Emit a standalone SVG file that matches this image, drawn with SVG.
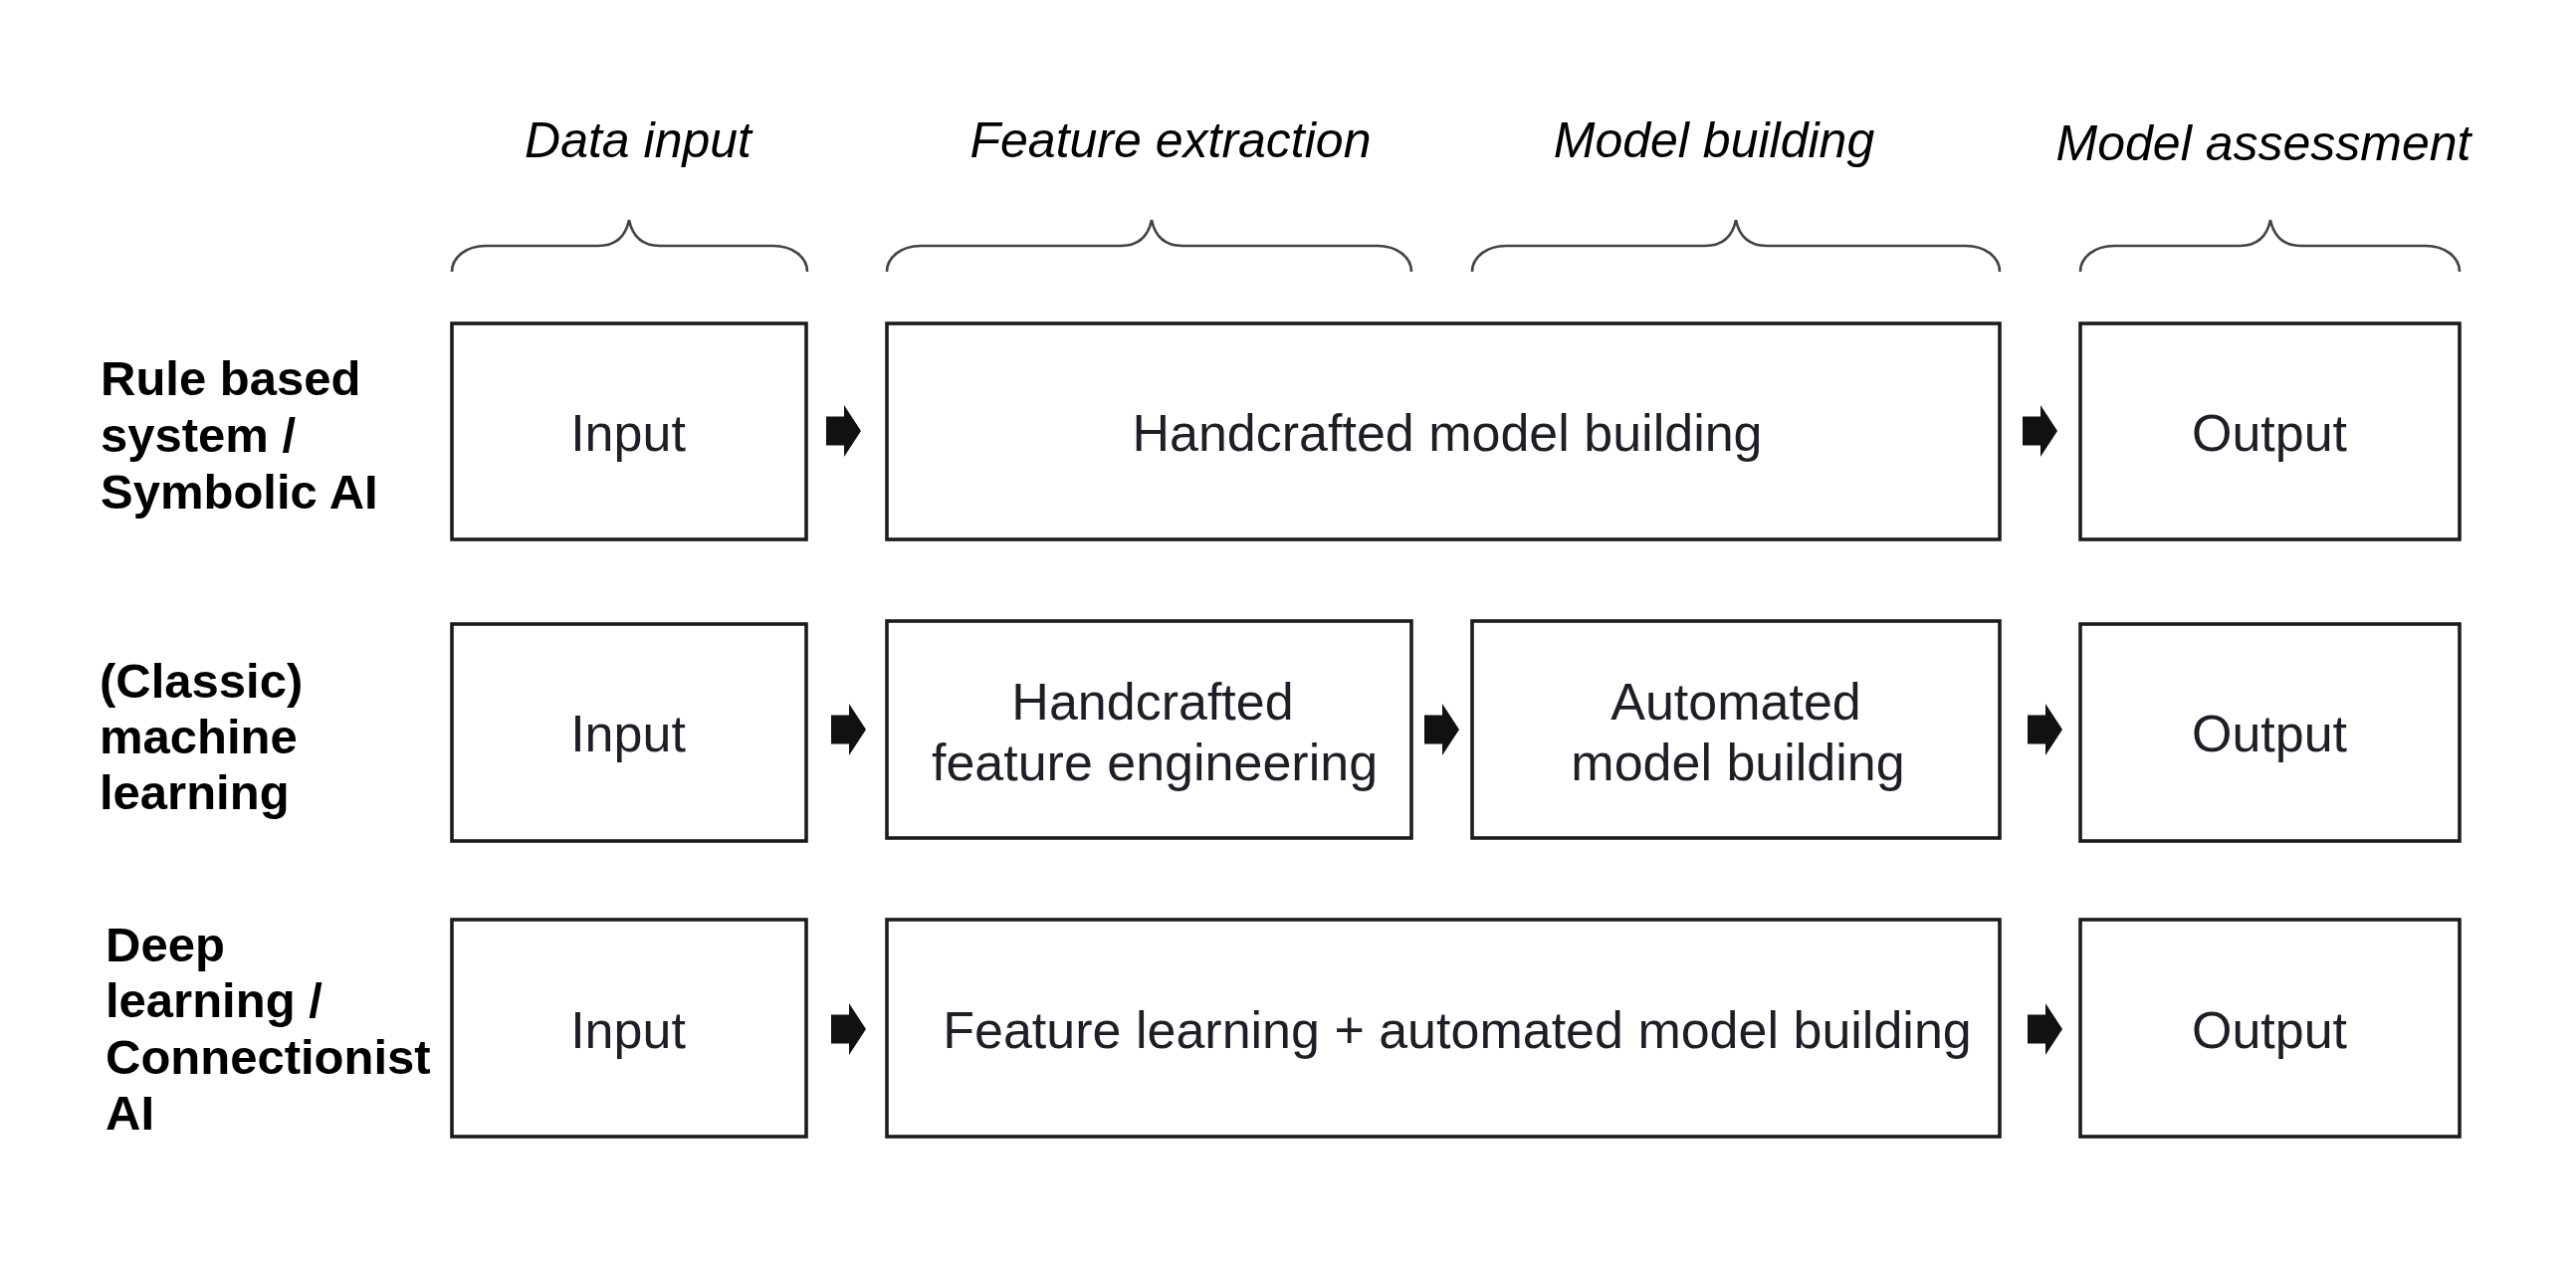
<svg xmlns="http://www.w3.org/2000/svg" width="2588" height="1268" viewBox="0 0 2588 1268">
<style>
  .box { fill: #ffffff; stroke: #1c1c1c; stroke-width: 3.6; }
  .brace { fill: none; stroke: #444444; stroke-width: 2.6; }
  .hdr { font-family: "Liberation Sans", Arial, sans-serif; font-style: italic; font-size: 50px; fill: #000000; text-anchor: middle; }
  .row { font-family: "Liberation Sans", Arial, sans-serif; font-weight: bold; font-size: 49px; fill: #000000; }
  .lbl { font-family: "Liberation Sans", Arial, sans-serif; font-size: 52px; fill: #1e1e26; text-anchor: middle; }
  .arr { fill: #111111; }
</style>
<defs>
  <path id="arrow" d="M0,-14.5 L18,-14.5 L18,-26 L35,0 L18,26 L18,14.5 L0,14.5 Z"/>
</defs>
<rect x="0" y="0" width="2588" height="1268" fill="#ffffff"/>

<g id="headers">
  <text class="hdr" x="641" y="158">Data input</text>
  <text class="hdr" x="1176" y="158">Feature extraction</text>
  <text class="hdr" x="1722" y="158">Model building</text>
  <text class="hdr" x="2274" y="161">Model assessment</text>
  <path class="brace" d="M454,273 C454,258 469,247 488,247 L601,247 C617,247 628,240 632,221 C636,240 647,247 663,247 L777,247 C796,247 811,258 811,273"/>
  <path class="brace" d="M891,273 C891,258 906,247 925,247 L1126,247 C1142,247 1153,240 1157,221 C1161,240 1172,247 1188,247 L1384,247 C1403,247 1418,258 1418,273"/>
  <path class="brace" d="M1479,273 C1479,258 1494,247 1513,247 L1713,247 C1729,247 1740,240 1744,221 C1748,240 1759,247 1775,247 L1975,247 C1994,247 2009,258 2009,273"/>
  <path class="brace" d="M2090,273 C2090,258 2105,247 2124,247 L2250,247 C2266,247 2277,240 2281,221 C2285,240 2296,247 2312,247 L2437,247 C2456,247 2471,258 2471,273"/>
</g>

<g id="row-labels">
  <text class="row" x="101" y="397">Rule based</text>
  <text class="row" x="101" y="454">system /</text>
  <text class="row" x="101" y="511">Symbolic AI</text>
  <text class="row" x="100" y="701">(Classic)</text>
  <text class="row" x="100" y="757">machine</text>
  <text class="row" x="100" y="813">learning</text>
  <text class="row" x="106" y="966">Deep</text>
  <text class="row" x="106" y="1022">learning /</text>
  <text class="row" x="106" y="1079">Connectionist</text>
  <text class="row" x="106" y="1135">AI</text>
</g>

<g id="r1-input"><rect class="box" x="454" y="325" width="356" height="217"/><text class="lbl" x="631" y="453">Input</text></g>
<g id="r1-handcrafted"><rect class="box" x="891" y="325" width="1118" height="217"/><text class="lbl" x="1454" y="453">Handcrafted model building</text></g>
<g id="r1-output"><rect class="box" x="2090" y="325" width="381" height="217"/><text class="lbl" x="2280" y="453">Output</text></g>

<g id="r2-input"><rect class="box" x="454" y="627" width="356" height="218"/><text class="lbl" x="631" y="755">Input</text></g>
<g id="r2-feature"><rect class="box" x="891" y="624" width="527" height="218"/><text class="lbl" x="1158" y="723">Handcrafted</text><text class="lbl" x="1160" y="784">feature engineering</text></g>
<g id="r2-model"><rect class="box" x="1479" y="624" width="530" height="218"/><text class="lbl" x="1744" y="723">Automated</text><text class="lbl" x="1746" y="784">model building</text></g>
<g id="r2-output"><rect class="box" x="2090" y="627" width="381" height="218"/><text class="lbl" x="2280" y="755">Output</text></g>

<g id="r3-input"><rect class="box" x="454" y="924" width="356" height="218"/><text class="lbl" x="631" y="1053">Input</text></g>
<g id="r3-learning"><rect class="box" x="891" y="924" width="1118" height="218"/><text class="lbl" x="1464" y="1053">Feature learning + automated model building</text></g>
<g id="r3-output"><rect class="box" x="2090" y="924" width="381" height="218"/><text class="lbl" x="2280" y="1053">Output</text></g>

<g id="connectors">
  <use href="#arrow" class="arr" x="830" y="433"/>
  <use href="#arrow" class="arr" x="2032" y="433"/>
  <use href="#arrow" class="arr" x="835" y="733"/>
  <use href="#arrow" class="arr" x="1431" y="733"/>
  <use href="#arrow" class="arr" x="2037" y="733"/>
  <use href="#arrow" class="arr" x="835" y="1034"/>
  <use href="#arrow" class="arr" x="2037" y="1034"/>
</g>
</svg>
